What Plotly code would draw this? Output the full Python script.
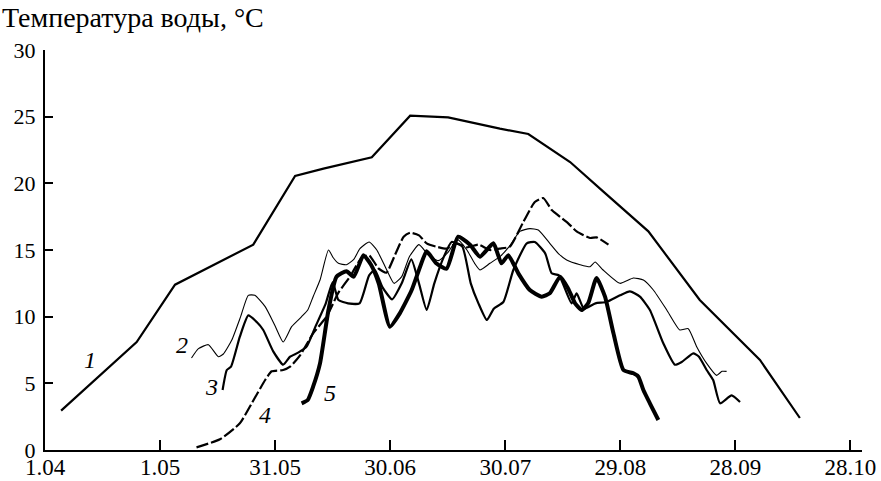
import plotly.graph_objects as go

# x = days since 1 April; y = water temperature, °C
tick_vals = [0, 30, 60, 90, 120, 150, 180, 210]
tick_text = ["1.04", "1.05", "31.05", "30.06", "30.07", "29.08", "28.09", "28.10"]
y_ticks = [0, 5, 10, 15, 20, 25, 30]

days_1 = [4.2, 23.9, 33.9, 54.3, 65.2, 72.6, 85.2, 95.2, 105.1, 118.6, 126.0,
          136.9, 145.5, 157.3, 170.7, 186.4, 196.8]
temp_1 = [2.95, 8.1, 12.4, 15.4, 20.55, 21.1, 21.95, 25.07, 24.95, 24.1, 23.7,
          21.6, 19.4, 16.4, 11.25, 6.75, 2.4]

days_2 = [38.2, 40.0, 42.6, 45.2, 46.5, 48.7, 51.0, 53.0, 54.7, 57.4, 60.0, 62.1,
          64.3, 66.9, 68.5, 69.9, 71.7, 73.9, 75.2, 76.5, 78.6, 80.5, 82.1, 84.5,
          86.5, 89.1, 91.0, 93.0, 95.0, 97.5, 100.0, 102.5, 105.0, 107.5, 110.0,
          112.0, 113.4, 116.0, 118.6, 121.0, 123.8, 126.4, 128.6, 131.6, 133.8,
          136.0, 139.5, 142.1, 143.4, 145.5, 149.9, 153.4, 156.0, 158.6, 162.1,
          165.5, 167.7, 169.9, 172.5, 175.1, 176.5, 177.7]
temp_2 = [6.9, 7.6, 7.9, 7.0, 7.2, 8.25, 10.0, 11.6, 11.6, 10.75, 9.3, 8.1,
          9.25, 10.0, 10.5, 11.5, 12.75, 15.0, 14.4, 14.0, 13.9, 14.3, 15.1, 15.6,
          15.0, 13.5, 12.5, 13.0, 14.5, 15.4, 14.6, 14.2, 14.8, 15.8, 15.0,
          14.0, 13.5, 14.0, 14.5, 15.25, 16.4, 16.6, 16.5, 15.5, 14.75,
          14.25, 13.9, 13.75, 14.1, 13.5, 12.5, 12.9, 12.75, 12.0, 10.5,
          9.0, 9.1, 7.75, 6.5, 5.6, 5.9, 5.9]

days_3 = [46.3, 47.4, 48.5, 50.8, 53.0, 55.2, 56.9, 59.5, 62.1, 63.9, 66.0, 68.2,
          70.5, 73.2, 75.0, 76.5, 79.0, 82.0, 84.5, 86.0, 88.0, 90.5, 93.0, 95.5,
          97.5, 99.5, 101.5, 104.0, 106.0, 108.8, 111.0, 113.0, 115.2, 117.0,
          119.5, 122.1, 125.6, 127.7, 130.4, 132.1, 134.0, 137.3, 138.6, 140.5,
          143.5, 146.4, 149.9, 152.5, 155.1, 157.7, 161.2, 164.2, 166.0, 169.0,
          170.5, 172.5, 174.2, 176.0, 179.0, 181.2]
temp_3 = [4.5, 6.0, 6.25, 8.5, 10.1, 9.6, 9.0, 7.4, 6.4, 7.0, 7.3, 7.75,
          9.25, 11.0, 12.6, 11.25, 11.0, 11.0, 13.1, 13.5, 12.2, 11.3, 12.5, 14.3,
          12.5, 10.5, 12.5, 14.5, 15.6, 15.25, 12.5, 11.0, 9.75, 10.6,
          11.1, 13.5, 15.5, 15.6, 14.75, 13.25, 13.1, 11.0, 11.75, 10.6,
          11.0, 11.1, 11.6, 11.9, 11.5, 10.5, 8.0, 6.4, 6.6, 7.25,
          7.0, 6.0, 5.25, 3.5, 4.1, 3.6]

days_4 = [39.5, 45.6, 50.8, 53.9, 57.4, 59.1, 62.1, 63.9, 66.5, 69.9, 73.4, 76.5,
          79.5, 82.5, 84.5, 87.0, 89.0, 91.5, 93.5, 95.2, 97.5, 99.5, 102.0, 104.7,
          107.3, 110.0, 113.0, 116.0, 118.5, 121.2, 124.7, 127.7, 129.9, 132.1,
          133.8, 136.4, 138.6, 142.1, 143.8, 146.9]
temp_4 = [0.2, 0.8, 2.0, 3.5, 5.25, 5.9, 6.0, 6.25, 7.1, 8.75, 10.0, 11.8,
          13.0, 14.4, 14.6, 13.6, 13.3, 14.8, 16.0, 16.3, 16.1, 15.5, 15.25, 15.1,
          15.5, 15.2, 15.4, 15.0, 15.1, 15.25, 17.1, 18.6, 18.9, 18.0,
          17.6, 17.0, 16.4, 15.9, 15.95, 15.4]

days_5 = [66.9, 68.5, 69.9, 71.7, 73.9, 76.0, 78.6, 80.5, 83.0, 85.0, 87.0, 89.9,
          92.5, 95.6, 97.8, 99.5, 102.0, 104.7, 107.7, 110.8, 113.4, 116.9, 119.0,
          120.8, 123.4, 126.4, 129.5, 131.6, 134.3, 136.4, 138.2, 139.9, 141.6,
          143.8, 146.0, 148.2, 150.8, 153.4, 154.7, 156.0, 157.7, 159.9]
temp_5 = [3.5, 3.75, 4.75, 6.5, 10.5, 13.0, 13.4, 13.0, 14.6, 13.9, 12.5, 9.25,
          10.25, 12.0, 13.75, 14.9, 14.0, 13.6, 16.0, 15.4, 14.5, 15.5, 14.0,
          14.6, 13.25, 12.0, 11.5, 11.75, 13.0, 12.1, 11.0, 10.5, 11.0,
          12.9, 11.5, 8.75, 6.0, 5.75, 5.5, 4.5, 3.5, 2.25]

curve_labels = ["1", "2", "3", "4", "5"]
label_days = [11.7, 35.6, 43.5, 57.4, 74.3]
label_temps = [6.75, 7.9, 4.75, 2.6, 4.3]

FONT = "Liberation Serif, Times New Roman, serif"

fig = go.Figure()
styles = [
    (days_1, temp_1, 2.2, "solid", "linear"),
    (days_2, temp_2, 1.1, "solid", "spline"),
    (days_3, temp_3, 2.2, "solid", "spline"),
    (days_4, temp_4, 2.2, "12px,3px", "spline"),
    (days_5, temp_5, 4.0, "solid", "spline"),
]
for d, t, w, dash, shape in styles:
    line = dict(color="black", width=w, dash=dash, shape=shape)
    if shape == "spline":
        line["smoothing"] = 0.5
    fig.add_trace(go.Scatter(x=d, y=t, mode="lines", line=line,
                             showlegend=False, hoverinfo="skip"))

for lab, ld, lt in zip(curve_labels, label_days, label_temps):
    fig.add_annotation(x=ld, y=lt, xref="x", yref="y", text="<i>" + lab + "</i>",
                       showarrow=False, font=dict(family=FONT, size=24, color="black"))

fig.add_annotation(x=-0.0555, y=1.08, xref="paper", yref="paper",
                   text="Температура воды, °C", showarrow=False,
                   xanchor="left", yanchor="middle",
                   font=dict(family=FONT, size=28, color="black"))

fig.update_layout(
    width=881, height=481,
    margin=dict(l=45, r=19, t=50, b=31, autoexpand=False),
    paper_bgcolor="white", plot_bgcolor="white",
    font=dict(family=FONT, size=24, color="black"),
    xaxis=dict(range=[0, 213], tickvals=tick_vals, ticktext=tick_text,
               showgrid=False, zeroline=False, showline=True, linecolor="black",
               linewidth=2, ticks="inside", ticklen=10, tickwidth=2,
               tickcolor="black", automargin=False, ticklabelstandoff=-5,
               tickfont=dict(family=FONT, size=23)),
    yaxis=dict(range=[0, 30], tickvals=y_ticks, showgrid=False, zeroline=False,
               showline=True, linecolor="black", linewidth=2, ticks="inside",
               ticklen=8, tickwidth=2, tickcolor="black", automargin=False,
               ticklabelstandoff=3, tickfont=dict(family=FONT, size=22)),
)

fig.write_html("out.html", config={"displayModeBar": False},
               post_script="document.body.style.margin='0px';document.body.style.overflow='hidden';")
